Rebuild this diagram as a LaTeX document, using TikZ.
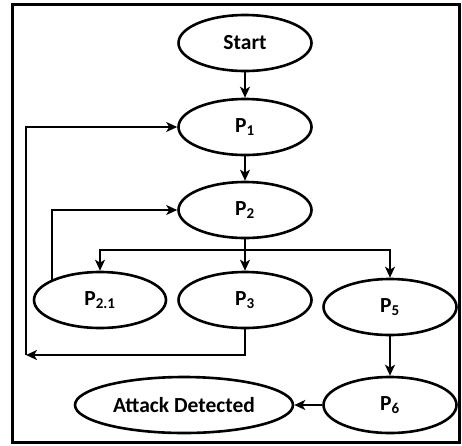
\documentclass[tikz,border=0pt]{standalone}
\usepackage{fontspec}
\setmainfont{Carlito}
\usetikzlibrary{shapes.geometric,arrows.meta}
\begin{document}
\begin{tikzpicture}[x=1pt,y=-1pt,
	proc/.style={ellipse,draw,line width=2.6pt,minimum width=133pt,minimum height=56pt,inner sep=0pt,font=\fontsize{21.5}{24}\selectfont\bfseries},
	flow/.style={-{Stealth[length=11pt,width=10pt,inset=3pt]},line width=2.4pt}]
	\useasboundingbox (0,0) rectangle (462,445);
	\draw[line width=3pt] (12.5,4) rectangle (459,442);
	% nodes
	\node[proc] (start) at (245,43) {Start};
	\node[proc] (p1) at (245,127) {P\textsubscript{1}};
	\node[proc] (p2) at (245,210) {P\textsubscript{2}};
	\node[proc,minimum width=132pt] (p21) at (100,300) {P\textsubscript{2.1}};
	\node[proc] (p3) at (245,300) {P\textsubscript{3}};
	\node[proc] (p5) at (390,307) {P\textsubscript{5}};
	\node[proc] (p6) at (390,405) {P\textsubscript{6}};
	\node[proc,minimum width=218pt] (att) at (184,405) {Attack Detected};
	\coordinate (br) at (245,250);
	\coordinate (lt) at (26,355);
	% connectors
	\draw[flow] (start) -- (p1);
	\draw[flow] (p1) -- (p2);
	\draw[flow] (p2) -- (p3);
	\draw[line width=2.4pt] (p2.south) -- (br);
	\draw[flow] (br) -| (p21.north);
	\draw[flow] (br) -| (p5.north);
	\draw[flow] (p21.157) |- (p2.west);
	\draw[flow] (p3.south) |- (lt);
	\draw[flow] (lt) |- (p1.west);
	\draw[flow] (p5) -- (p6);
	\draw[flow] (p6) -- (att);
\end{tikzpicture}
\end{document}
